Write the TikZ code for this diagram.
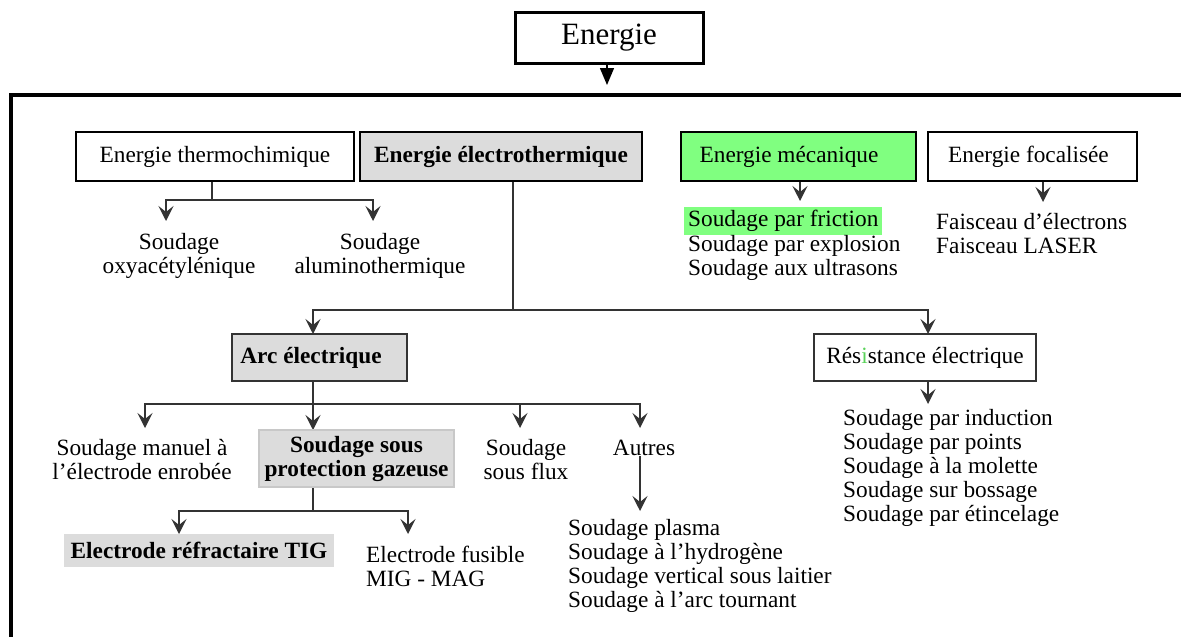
\documentclass[tikz,border=0pt]{standalone}
\usepackage{fontspec}
\setmainfont{Liberation Serif}
\usetikzlibrary{arrows.meta}
\definecolor{boxgray}{RGB}{220,220,220}
\definecolor{edgegray}{RGB}{200,200,200}
\definecolor{mecgreen}{RGB}{128,255,128}
\definecolor{igreen}{RGB}{90,210,90}
\begin{document}
\begin{tikzpicture}[x=1pt,y=-1pt,
  every node/.style={font=\fontsize{23.3}{24}\selectfont},
  boldtxt/.style={font=\fontsize{23.3}{24}\selectfont\bfseries},
  bigbox/.style={draw=black, line width=2.5pt, minimum height=49pt, inner sep=0pt},
  midbox/.style={draw=black!80, line width=1.5pt, minimum height=47pt, inner sep=0pt},
  txt/.style={inner sep=0pt},
  conn/.style={line width=1.4pt, draw=black!80},
  arr/.style={conn, -{Stealth[length=15pt,width=15pt,inset=6pt]}},
]
\useasboundingbox (0,0) rectangle (1181,637);

% outer frame
\draw[line width=4pt] (11,640) -- (11,95) -- (1185,95);

% top box
\node[draw, line width=3pt, minimum width=188pt, minimum height=51pt, inner sep=0pt,
      font=\fontsize{31}{33}\selectfont] (en) at (609,37.5) {Energie};
\coordinate (enTip) at (607,85);
\draw[line width=1.4pt, -{Triangle[length=17pt,width=14pt]}] (en.south -| enTip) -- (enTip);

% row 1
\node[bigbox, minimum width=278pt] (th) at (215,156.5) {Energie thermochimique};
\node[bigbox, fill=boxgray, minimum width=282pt, boldtxt] (el) at (501,156.5) {Energie électrothermique};
\node[bigbox, fill=mecgreen, minimum width=235pt] (me) at (798.5,156.5) {Energie mécanique\hspace*{19pt}};
\node[bigbox, minimum width=209pt] (fo) at (1032.5,156.5) {Energie focalisée\hspace*{8pt}};

% thermochimique
\coordinate (thJ) at (212,200);
\coordinate (thL) at (166,221);
\coordinate (thR) at (373,221);
\draw[conn] (th.south -| thJ) -- (thJ);
\draw[arr] (thJ) -| (thL);
\draw[arr] (thJ) -| (thR);
\node[txt, align=center] (oxy) at (179,256) {Soudage\\oxyacétylénique};
\node[txt, align=center] (alu) at (380,256) {Soudage\\aluminothermique};

% mecanique
\coordinate (meTip) at (800,201);
\draw[arr] (me.south -| meTip) -- (meTip);
\node[txt, anchor=west, fill=mecgreen, inner xsep=4pt, inner ysep=3pt] (fric) at (684,221) {Soudage par friction};
\node[txt, anchor=west, align=left] (mel) at (688,257.5) {Soudage par explosion\\Soudage aux ultrasons};

% focalisee
\coordinate (foTip) at (1043,202);
\draw[arr] (fo.south -| foTip) -- (foTip);
\node[txt, anchor=west, align=left] (fol) at (936,233.5) {Faisceau d’électrons\\Faisceau LASER};

% row 2
\node[midbox, fill=boxgray, boldtxt, minimum width=175pt] (arc) at (319.5,357.5) {Arc électrique\hspace*{17pt}};
\node[midbox, minimum width=222pt] (res) at (925,357.5) {Rés\textcolor{igreen}{i}stance électrique};

% electrothermique
\coordinate (elJ) at (513,310);
\coordinate (arcIn) at (313,334);
\coordinate (resIn) at (928,334);
\draw[conn] (el.south -| elJ) -- (elJ);
\draw[arr] (elJ) -| (arcIn);
\draw[arr] (elJ) -| (resIn);

% resistance
\coordinate (resTip) at (928,404);
\draw[arr] (res.south -| resTip) -- (resTip);
\node[txt, anchor=west, align=left] (resl) at (843,467.5) {Soudage par induction\\Soudage par points\\Soudage à la molette\\Soudage sur bossage\\Soudage par étincelage};

% arc electrique
\coordinate (arcJ) at (313,404);
\coordinate (a1) at (145,428);
\coordinate (a2) at (313,430);
\coordinate (a3) at (520,428);
\coordinate (a4) at (640,428);
\draw[conn] (arc.south -| arcJ) -- (arcJ);
\draw[arr] (arcJ) -| (a1);
\draw[arr] (arcJ) -- (a2);
\draw[arr] (arcJ) -| (a3);
\draw[arr] (arcJ) -| (a4);

\node[txt, align=center] (man) at (142,459.5) {Soudage manuel à\\l’électrode enrobée};
\node[fill=boxgray, draw=edgegray, line width=1.5pt, minimum width=195pt, minimum height=57pt,
      inner sep=0pt, align=center, boldtxt] (gaz) at (356.5,458.5) {Soudage sous\\protection gazeuse};
\node[txt, align=center] (flux) at (526,459.5) {Soudage\\sous flux};
\node[txt] (aut) at (644,448) {Autres};

% autres
\coordinate (autTip) at (640,511);
\draw[arr] (aut.south -| autTip) -- (autTip);
\node[txt, anchor=west, align=left] (autl) at (568,566) {Soudage plasma\\Soudage à l’hydrogène\\Soudage vertical sous laitier\\Soudage à l’arc tournant};

% gazeuse
\coordinate (gazJ) at (313,511);
\coordinate (g1) at (179,534);
\coordinate (g2) at (408,534);
\draw[conn] (gaz.south -| gazJ) -- (gazJ);
\draw[arr] (gazJ) -| (g1);
\draw[arr] (gazJ) -| (g2);
\node[fill=boxgray, minimum width=270pt, minimum height=33pt, inner sep=0pt, boldtxt] (tig) at (199,550) {Electrode réfractaire TIG};
\node[txt, anchor=west, align=left] (fus) at (366,566) {Electrode fusible\\MIG - MAG};
\end{tikzpicture}
\end{document}
